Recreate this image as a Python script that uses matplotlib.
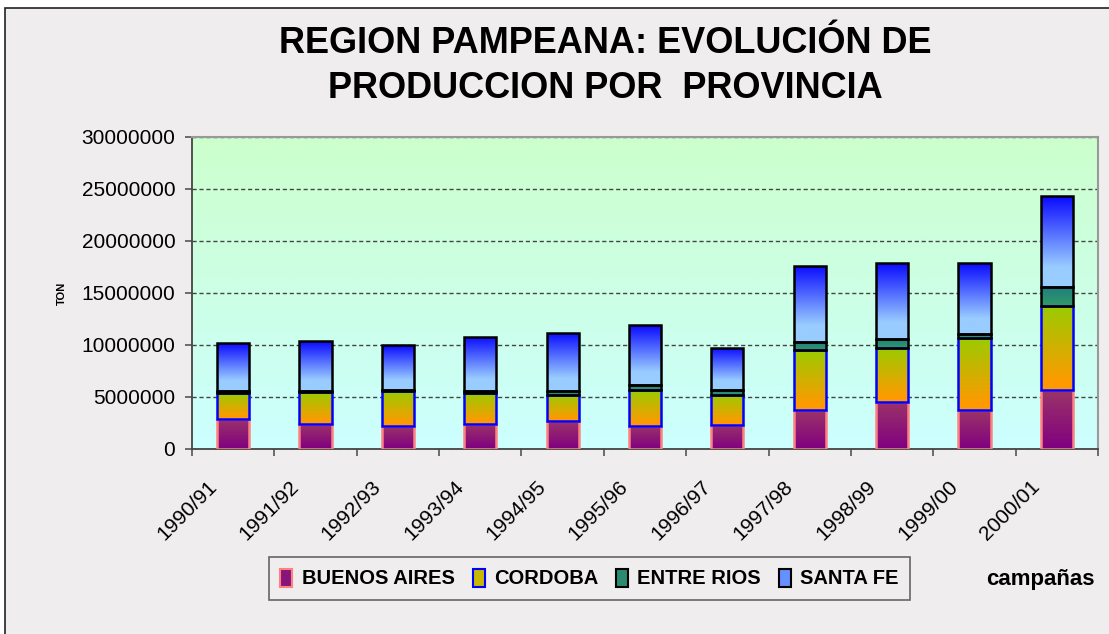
import numpy as np
import matplotlib
matplotlib.use("Agg")
import matplotlib.pyplot as plt
from matplotlib.colors import LinearSegmentedColormap
from matplotlib.patches import Rectangle, Patch
from matplotlib.transforms import ScaledTranslation

plt.rcParams['font.family'] = ['Liberation Sans', 'DejaVu Sans']

# ---------------- data ----------------
campanas = ["1990/91", "1991/92", "1992/93", "1993/94", "1994/95", "1995/96",
            "1996/97", "1997/98", "1998/99", "1999/00", "2000/01"]
buenos_aires = [2890000, 2440000, 2250000, 2440000, 2670000, 2250000,
                2350000, 3730000, 4540000, 3730000, 5660000]
cordoba = [2480000, 3060000, 3310000, 2930000, 2510000, 3440000,
           2890000, 5830000, 5210000, 6980000, 8110000]
entre_rios = [190000, 100000, 160000, 160000, 380000, 480000,
              390000, 740000, 840000, 390000, 1770000]
santa_fe = [4600000, 4750000, 4280000, 5270000, 5600000, 5730000,
            4120000, 7330000, 7270000, 6760000, 8750000]
series_names = ["BUENOS AIRES", "CORDOBA", "ENTRE RIOS", "SANTA FE"]
yticks = [0, 5000000, 10000000, 15000000, 20000000, 25000000, 30000000]

# styles: (gradient stops bottom->top, edge colour, legend colour)
styles = [
    ([(0, "#800080"), (1, "#9B3468")], "#FF8080", "#88157A"),
    ([(0, "#FF9900"), (0.08, "#FF9900"), (1, "#99CC00")], "#0000FF", "#C8B800"),
    ([(0, "#339966"), (1, "#1E7F80")], "#000000", "#2A8A72"),
    ([(0, "#99CCFF"), (0.22, "#99CCFF"), (1, "#0A0AFF")], "#000000", "#6690FF"),
]

W, H = 1109, 634
fig = plt.figure(figsize=(W / 100, H / 100), dpi=100)
fig.patch.set_facecolor("white")
border = Rectangle((5 / W, -0.1), 1.2, (H - 8) / H + 0.1, transform=fig.transFigure,
                   facecolor="#EFEDED", edgecolor="#222222", lw=1.2, zorder=-5)
fig.patches.append(border)

ax = fig.add_axes([192 / W, (H - 449) / H, 906 / W, 312 / H])
ax.set_facecolor("#CCFFEE")

# background gradient (green top -> cyan bottom)
bg_cmap = LinearSegmentedColormap.from_list("bg", ["#CCFFFF", "#CCFFCC"])
grad = np.linspace(0, 1, 256).reshape(-1, 1)
ax.imshow(grad, extent=[0, 1, 0, 1], transform=ax.transAxes, cmap=bg_cmap,
          origin="lower", aspect="auto", zorder=0)

x = np.arange(len(campanas))
width = 0.39
bottom = np.zeros(len(campanas))
all_series = [buenos_aires, cordoba, entre_rios, santa_fe]
for i, (vals, st) in enumerate(zip(all_series, styles)):
    vals = np.array(vals, dtype=float)
    cmap = LinearSegmentedColormap.from_list("c%d" % i, st[0])
    bars = ax.bar(x, vals, width, bottom=bottom, facecolor="none",
                  edgecolor=st[1], linewidth=1.8, zorder=3 + i * 0.1)
    for b in bars:
        x0, y0 = b.get_x(), b.get_y()
        im = ax.imshow(grad, extent=[x0, x0 + b.get_width(), y0, y0 + b.get_height()],
                       cmap=cmap, origin="lower", aspect="auto", zorder=2)
        im.set_clip_path(b)
    bottom += vals

ax.set_xlim(-0.5, len(campanas) - 0.5)
ax.set_ylim(0, 30000000)
ax.set_yticks(yticks)
ax.set_yticklabels([str(v) for v in yticks], fontsize=15)
ax.yaxis.grid(True, linestyle=(0, (3, 2)), color="#444444", linewidth=1.0, zorder=1)
for gl in ax.get_ygridlines():
    gl.set_zorder(1)

ax.set_xticks(x)
ax.set_xticklabels(campanas, fontsize=15, rotation=45, ha="right", va="top")
ax.set_xticks(np.arange(len(campanas) + 1) - 0.5, minor=True)
ax.tick_params(axis="x", which="major", length=0, pad=20)
ax.tick_params(axis="x", which="minor", length=5, color="#555555", width=1.2)
ax.tick_params(axis="y", length=5, color="#555555", width=1.2, pad=7)
offset = ScaledTranslation(-13 / 100, 0, fig.dpi_scale_trans)
for lab in ax.get_xticklabels():
    lab.set_transform(lab.get_transform() + offset)

for s in ["left", "bottom"]:
    ax.spines[s].set_color("#444444")
    ax.spines[s].set_linewidth(1.3)
for s in ["top", "right"]:
    ax.spines[s].set_color("#999999")
    ax.spines[s].set_linewidth(1.5)

ax.set_ylabel("TON", fontsize=8, fontweight="bold", labelpad=0)
ax.yaxis.set_label_coords(-0.138, 0.5)

fig.text(605 / W, 1 - 66 / H, "REGION PAMPEANA: EVOLUCIÓN DE\nPRODUCCION POR  PROVINCIA",
         ha="center", va="center", fontsize=26, fontweight="bold", linespacing=1.4)

handles = [Patch(facecolor=st[2], edgecolor=st[1], linewidth=1.5) for st in styles]
leg = fig.legend(handles, series_names, loc="center", ncol=4,
                 bbox_to_anchor=(589.5 / W, 1 - 578.5 / H),
                 prop={"size": 14.5, "weight": "bold"},
                 handlelength=0.6, handleheight=1.0, handletextpad=0.45,
                 columnspacing=0.9, frameon=True, fancybox=False,
                 borderpad=0.55)
leg.get_frame().set_edgecolor("#444444")
leg.get_frame().set_facecolor("#EFEDED")
leg.get_frame().set_linewidth(1.2)

fig.text(1040 / W, 1 - 579 / H, "campañas", ha="center", va="center",
         fontsize=16, fontweight="bold")

fig.savefig("out.png", dpi=100, facecolor=fig.get_facecolor())
